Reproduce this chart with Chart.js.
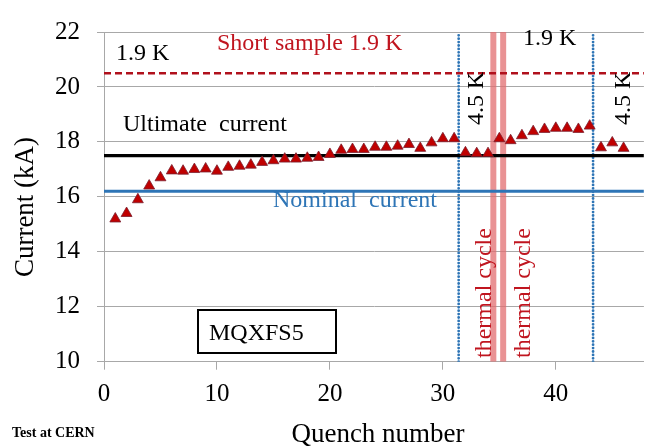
<!DOCTYPE html>
<html>
<head>
<meta charset="utf-8">
<script src="https://cdn.jsdelivr.net/npm/chart.js@4.4.0/dist/chart.umd.min.js"></script>
<style>
  html, body { margin: 0; padding: 0; background: #fff; }
  canvas { display: block; }
</style>
</head>
<body>
<canvas id="chart" width="651" height="447"></canvas>
<script>
// quench training data
const quenchNumbers = [1, 2, 3, 4, 5, 6, 7, 8, 9, 10, 11, 12, 13, 14, 15, 16, 17, 18, 19, 20, 21, 22, 23,
  24, 25, 26, 27, 28, 29, 30, 31, 32, 33, 34, 35, 36, 37, 38, 39, 40, 41, 42, 43, 44, 45, 46];
const quenchCurrents = [15.2, 15.4, 15.9, 16.4, 16.7, 16.95, 16.94, 17.0, 17.02, 16.94, 17.08, 17.12, 17.16,
  17.26, 17.32, 17.38, 17.38, 17.41, 17.44, 17.55, 17.7, 17.73, 17.73, 17.81, 17.81, 17.85, 17.91, 17.77,
  17.97, 18.12, 18.12, 17.61, 17.58, 17.58, 18.12, 18.05, 18.23, 18.38, 18.46, 18.5, 18.5, 18.46, 18.58,
  17.79, 17.97, 17.77];

// reference levels (kA)
const shortSample = 20.5;
const ultimateCurrent = 17.5;
const nominalCurrent = 16.2;

// events along the quench axis
const temperatureChanges = [31.4, 43.3];
const thermalCycles = [34.47, 35.34];

// axis ranges and ticks
const xRange = [0, 47.8];
const yRange = [10, 22];
const xStep = 10;
const yStep = 2;

const SERIF = "'Liberation Serif', 'Times New Roman', serif";
const DARK_RED = "#C0151F";
const BLUE = "#2E75B6";
const GRID = "#A8A8A8";

function hLine(y, color, width, dash) {
  return {
    type: "line", showLine: true, order: 2,
    data: [{ x: xRange[0], y: y }, { x: xRange[1], y: y }],
    borderColor: color, borderWidth: width, borderDash: dash || [],
    pointRadius: 0, pointHoverRadius: 0
  };
}
function vLine(x, color, width, dash, cap) {
  return {
    type: "line", showLine: true, order: 3,
    data: [{ x: x, y: yRange[0] }, { x: x, y: yRange[1] }],
    borderColor: color, borderWidth: width, borderDash: dash || [],
    borderCapStyle: cap || "butt",
    pointRadius: 0, pointHoverRadius: 0
  };
}

const datasets = [
  {
    label: "Quench current",
    data: quenchNumbers.map((q, i) => ({ x: q, y: quenchCurrents[i] })),
    pointStyle: "triangle",
    pointRadius: 6.3,
    backgroundColor: "#C00000",
    borderColor: "#7A1F2E",
    borderWidth: 0.8,
    order: 0
  },
  hLine(shortSample, "#B0101C", 2.5, [7, 4]),
  hLine(ultimateCurrent, "#000000", 3.3),
  hLine(nominalCurrent, BLUE, 3)
];
temperatureChanges.forEach(x => datasets.push(vLine(x, BLUE, 2.8, [0, 3.4], "round")));
thermalCycles.forEach(x => datasets.push(vLine(x, "rgba(226,110,112,0.75)", 6)));

// free text written on top of the plot
const notes = [
  { text: "1.9 K", x: 116, y: 60, color: "#000", size: 24 },
  { text: "Short sample 1.9 K", x: 217, y: 50, color: DARK_RED, size: 24 },
  { text: "1.9 K", x: 523, y: 45, color: "#000", size: 24 },
  { text: "Ultimate  current", x: 123, y: 131, color: "#000", size: 24 },
  { text: "Nominal  current", x: 273, y: 207, color: BLUE, size: 24 },
  { text: "4.5 K", x: 483, y: 125, color: "#000", size: 24, rotate: true },
  { text: "4.5 K", x: 630, y: 125, color: "#000", size: 24, rotate: true },
  { text: "thermal cycle", x: 491, y: 358, color: DARK_RED, size: 24, rotate: true },
  { text: "thermal cycle", x: 530, y: 358, color: DARK_RED, size: 24, rotate: true },
  { text: "Current (kA)", x: 33, y: 207, color: "#000", size: 27, rotate: true, center: true },
  { text: "Quench number", x: 378, y: 442, color: "#000", size: 27, center: true },
  { text: "Test at CERN", x: 12, y: 437, color: "#000", size: 14, bold: true }
];

const notesPlugin = {
  id: "notes",
  afterDraw(chart) {
    const ctx = chart.ctx;
    ctx.save();
    // magnet name box
    ctx.fillStyle = "#fff";
    ctx.fillRect(198, 310, 138, 43);
    ctx.strokeStyle = "#000";
    ctx.lineWidth = 2;
    ctx.strokeRect(198, 310, 138, 43);
    ctx.fillStyle = "#000";
    ctx.font = "24px " + SERIF;
    ctx.textBaseline = "alphabetic";
    ctx.textAlign = "left";
    ctx.fillText("MQXFS5", 209, 340);

    notes.forEach(n => {
      ctx.save();
      ctx.fillStyle = n.color;
      ctx.font = (n.bold ? "bold " : "") + n.size + "px " + SERIF;
      ctx.textAlign = n.center ? "center" : "left";
      ctx.textBaseline = "alphabetic";
      ctx.translate(n.x, n.y);
      if (n.rotate) ctx.rotate(-Math.PI / 2);
      ctx.fillText(n.text, 0, 0);
      ctx.restore();
    });
    ctx.restore();
  }
};

new Chart(document.getElementById("chart").getContext("2d"), {
  type: "scatter",
  data: { datasets: datasets },
  options: {
    responsive: false,
    animation: false,
    devicePixelRatio: 1,
    layout: { padding: { top: 21.7, right: 0, left: 0, bottom: 0 } },
    plugins: { legend: { display: false }, tooltip: { enabled: false } },
    scales: {
      x: {
        type: "linear",
        min: xRange[0],
        max: xRange[1],
        afterFit: s => { s.height = 447 - 361.7; },
        ticks: { stepSize: xStep, includeBounds: false, padding: 10, color: "#000",
          font: { family: SERIF, size: 25 } },
        grid: { drawOnChartArea: false, drawTicks: true, tickLength: 8, color: GRID },
        border: { color: GRID, width: 1 }
      },
      y: {
        type: "linear",
        min: yRange[0],
        max: yRange[1],
        afterFit: s => { s.width = 104; },
        ticks: { stepSize: yStep, padding: 17, color: "#000",
          font: { family: SERIF, size: 25 } },
        grid: { color: GRID, lineWidth: 1, tickLength: 7 },
        border: { color: GRID, width: 1 }
      }
    }
  },
  plugins: [notesPlugin]
});
</script>
</body>
</html>
